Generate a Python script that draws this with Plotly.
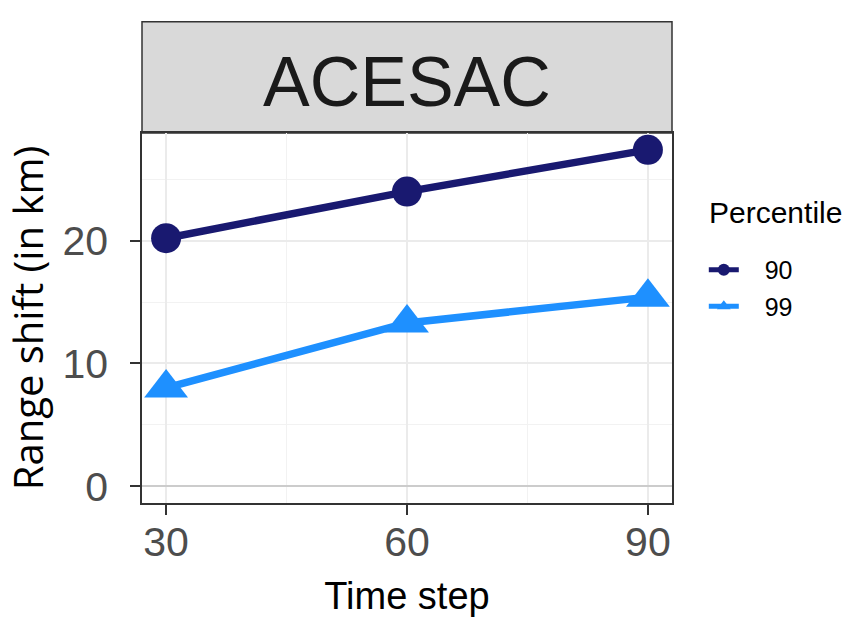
import plotly.graph_objects as go

time_step = [30, 60, 90]
p90 = [20.2, 24.0, 27.4]
p99 = [8.0, 13.3, 15.4]
percentiles = ["90", "99"]
legend_title = "Percentile"
panel = "ACESAC"

pad = "\u00a0\u00a0\u00a0"  # gap between key and label, like ggplot

fig = go.Figure()
fig.add_trace(go.Scatter(x=time_step, y=p90, mode="lines+markers", name=pad + percentiles[0],
                         legendgroup="a",
                         line=dict(color="#191970", width=7.5),
                         marker=dict(symbol="circle", size=30, color="#191970")))
fig.add_trace(go.Scatter(x=time_step, y=p99, mode="lines+markers", name=pad + percentiles[1],
                         legendgroup="b",
                         line=dict(color="#1E90FF", width=7.5),
                         marker=dict(symbol="triangle-up", size=38, color="#1E90FF")))

# facet strip on top of the panel
fig.add_shape(type="rect", xref="paper", yref="paper", x0=0, x1=1, y0=1, y1=1.301,
              fillcolor="#D9D9D9", line=dict(color="#333333", width=1.5), layer="below")
fig.add_annotation(text=panel, xref="paper", yref="paper", x=0.5, y=1.138, yanchor="middle",
                   showarrow=False, font=dict(size=70, color="#1A1A1A", family="Liberation Sans"))
fig.add_annotation(text=legend_title, xref="paper", yref="paper", x=1.066, y=0.786,
                   xanchor="left", yanchor="middle", showarrow=False,
                   font=dict(size=30, color="#000000"))

axis_style = dict(ticks="outside", ticklen=10, tickwidth=2, tickcolor="#333333",
                  showline=True, linecolor="#333333", linewidth=1.5, mirror=True,
                  showgrid=True, gridcolor="#EBEBEB", gridwidth=1.5,
                  tickfont=dict(size=41, color="#4D4D4D"))

fig.update_xaxes(range=[27, 93], tickvals=time_step, zeroline=False, ticklabelstandoff=-8,
                 minor=dict(tickvals=[45, 75], showgrid=True, gridcolor="#F2F2F2", gridwidth=1),
                 title=dict(text="Time step", font=dict(size=38, color="#000000"), standoff=18),
                 **axis_style)
fig.update_yaxes(range=[-1.37, 28.77], tickvals=[0, 10, 20], ticklabelstandoff=14,
                 zeroline=True, zerolinecolor="#CCCCCC", zerolinewidth=2,
                 minor=dict(tickvals=[5, 15, 25], showgrid=True, gridcolor="#F2F2F2", gridwidth=1),
                 title=dict(text="Range shift (in km)", font=dict(size=40, color="#000000",
                                                             family="Open Sans"), standoff=8),
                 **axis_style)

fig.update_layout(
    width=857, height=641,
    margin=dict(l=142, r=185, t=133, b=138, autoexpand=False),
    paper_bgcolor="white", plot_bgcolor="white",
    font=dict(family="Liberation Sans"),
    legend=dict(x=1.06, y=0.692, xanchor="left", yanchor="top",
                font=dict(size=25, color="#000000"), itemsizing="constant",
                itemwidth=30, tracegroupgap=1),
)

fig.write_html("out.html", config=dict(displayModeBar=False),
               post_script="document.body.style.margin='0px';")
